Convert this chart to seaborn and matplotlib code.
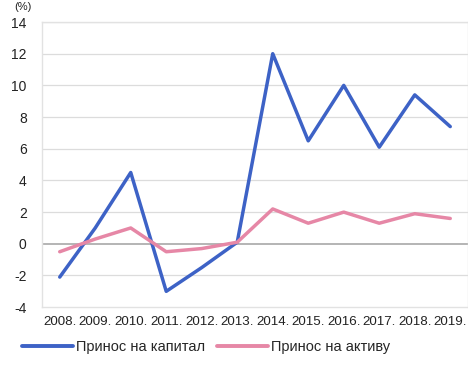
import matplotlib
matplotlib.use("Agg")
import matplotlib.pyplot as plt
import seaborn as sns
import pandas as pd
from matplotlib.lines import Line2D

years = ["2008.", "2009.", "2010.", "2011.", "2012.", "2013.", "2014.", "2015.", "2016.", "2017.", "2018.", "2019."]
roe = [-2.1, 1.0, 4.5, -3.0, -1.5, 0.1, 12.0, 6.5, 10.0, 6.1, 9.4, 7.4]
roa = [-0.5, 0.3, 1.0, -0.5, -0.3, 0.1, 2.2, 1.3, 2.0, 1.3, 1.9, 1.6]
series_names = ["Принос на капитал", "Принос на активу"]
colors = ["#3d62c6", "#e687a6"]
y_ticks = [-4, -2, 0, 2, 4, 6, 8, 10, 12, 14]
unit_label = "(%)"

df = pd.DataFrame({
    "year": years * 2,
    "value": roe + roa,
    "series": [series_names[0]] * len(years) + [series_names[1]] * len(years),
})
df["x"] = list(range(len(years))) * 2

sns.set_theme(style="white")
plt.rcParams["font.family"] = ["Liberation Sans", "DejaVu Sans"]

fig = plt.figure(figsize=(4.68, 3.67), dpi=100)
ax = fig.add_axes([0.0897, 0.163, 0.9103, 0.777])

sns.lineplot(data=df, x="x", y="value", hue="series", palette=colors,
             linewidth=2.5, ax=ax, legend=False, zorder=3)

ax.set_xlim(-0.5, len(years) - 0.5)
ax.set_ylim(-4, 14)
ax.set_yticks(y_ticks)
ax.set_yticklabels([str(v) for v in y_ticks], fontsize=10)
ax.set_xticks(range(len(years)))
ax.set_xticklabels(years, fontsize=9.6)
ax.tick_params(axis="both", length=0, colors="#222222")
ax.tick_params(axis="y", pad=11)
ax.tick_params(axis="x", pad=6)
ax.set_xlabel("")
ax.set_ylabel("")

for v in y_ticks:
    if v == 0:
        ax.axhline(v, color="#a8a8a8", linewidth=1.2, zorder=1)
    elif v != -4:
        ax.axhline(v, color="#dcdcdc", linewidth=0.9, zorder=1)

for side, sp in ax.spines.items():
    sp.set_color("#e2e2e2")
    sp.set_linewidth(1.0)

fig.text(0.03, 0.995, unit_label, fontsize=8, ha="left", va="top", color="#222222")

handles = [Line2D([0], [0], color=c, linewidth=2.8) for c in colors]
fig.legend(handles, series_names, loc="lower center", bbox_to_anchor=(0.44, 0.0),
           ncol=2, frameon=False, fontsize=10.5, handlelength=3.5, handletextpad=0.2,
           columnspacing=0.8)

fig.savefig("out.png", dpi=100)
